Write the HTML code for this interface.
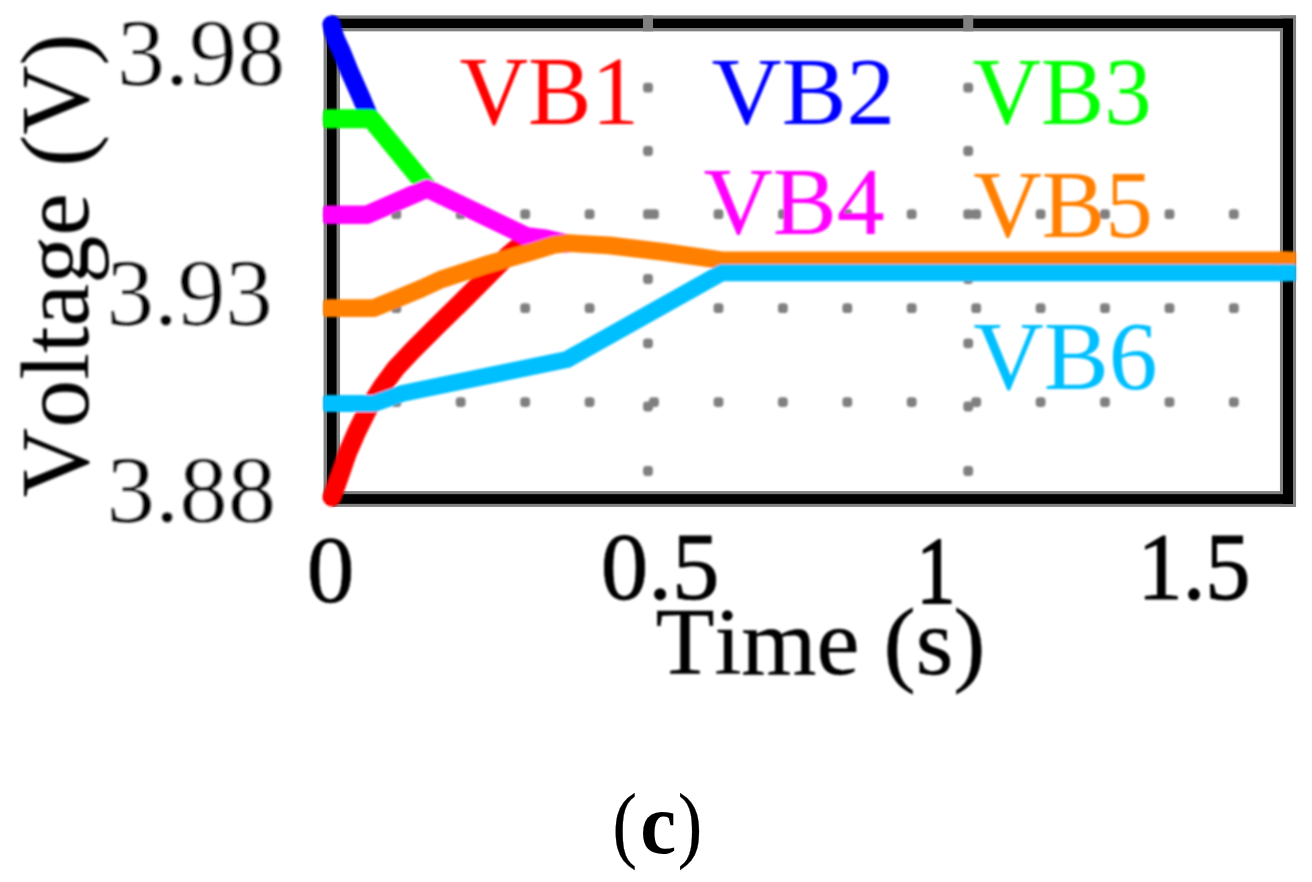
<!DOCTYPE html>
<html lang="en"><head><meta charset="utf-8"><title>Cell voltage balancing (c)</title>
<style>
html,body{margin:0;padding:0;background:#fff;}
body{width:1312px;height:882px;overflow:hidden;}
svg{display:block;font-family:"Liberation Serif", "DejaVu Serif", serif;}
text{white-space:pre;font-kerning:none;font-variant-ligatures:none;}
</style></head><body>
<svg width="1312" height="882" viewBox="0 0 1312 882">
<rect width="1312" height="882" fill="#fff"/>
<defs><filter id="soft" x="-2%" y="-2%" width="104%" height="104%"><feGaussianBlur stdDeviation="0.8"/></filter><filter id="soft2" x="-2%" y="-2%" width="104%" height="104%"><feGaussianBlur stdDeviation="0.45"/></filter></defs>
<g id="frame" filter="url(#soft2)">
<g fill="#808080">
<rect x="331.5" y="15.35" width="964.50" height="16.0"/>
<rect x="332.5" y="491.10" width="963.50" height="15.8"/>
<rect x="323.55" y="22.4" width="16.5" height="477.40"/>
<rect x="1279.95" y="15.4" width="16.1" height="491.40"/>
</g>
<g fill="#000">
<rect x="327.05" y="18.70" width="965.95" height="9.3"/>
<rect x="327.05" y="494.15" width="965.95" height="9.7"/>
<rect x="327.05" y="18.70" width="9.5" height="485.15"/>
<rect x="1283.00" y="18.70" width="10.0" height="485.15"/>
</g>
<g fill="#808080">
<rect x="643.0" y="15.35" width="10" height="16.0"/>
<rect x="963.2" y="15.35" width="10" height="16.0"/>
</g>
</g>
<g id="chart" filter="url(#soft)">
<g fill="#808080">
<rect x="391.4" y="209.3" width="9.8" height="9.8" rx="3.4"/>
<rect x="455.8" y="209.3" width="9.8" height="9.8" rx="3.4"/>
<rect x="520.3" y="209.3" width="9.8" height="9.8" rx="3.4"/>
<rect x="584.7" y="209.3" width="9.8" height="9.8" rx="3.4"/>
<rect x="649.1" y="209.3" width="9.8" height="9.8" rx="3.4"/>
<rect x="713.6" y="209.3" width="9.8" height="9.8" rx="3.4"/>
<rect x="778.0" y="209.3" width="9.8" height="9.8" rx="3.4"/>
<rect x="842.4" y="209.3" width="9.8" height="9.8" rx="3.4"/>
<rect x="906.8" y="209.3" width="9.8" height="9.8" rx="3.4"/>
<rect x="971.3" y="209.3" width="9.8" height="9.8" rx="3.4"/>
<rect x="1035.7" y="209.3" width="9.8" height="9.8" rx="3.4"/>
<rect x="1100.1" y="209.3" width="9.8" height="9.8" rx="3.4"/>
<rect x="1164.6" y="209.3" width="9.8" height="9.8" rx="3.4"/>
<rect x="1229.0" y="209.3" width="9.8" height="9.8" rx="3.4"/>
<rect x="391.4" y="303.3" width="9.8" height="9.8" rx="3.4"/>
<rect x="455.8" y="303.3" width="9.8" height="9.8" rx="3.4"/>
<rect x="520.3" y="303.3" width="9.8" height="9.8" rx="3.4"/>
<rect x="584.7" y="303.3" width="9.8" height="9.8" rx="3.4"/>
<rect x="649.1" y="303.3" width="9.8" height="9.8" rx="3.4"/>
<rect x="713.6" y="303.3" width="9.8" height="9.8" rx="3.4"/>
<rect x="778.0" y="303.3" width="9.8" height="9.8" rx="3.4"/>
<rect x="842.4" y="303.3" width="9.8" height="9.8" rx="3.4"/>
<rect x="906.8" y="303.3" width="9.8" height="9.8" rx="3.4"/>
<rect x="971.3" y="303.3" width="9.8" height="9.8" rx="3.4"/>
<rect x="1035.7" y="303.3" width="9.8" height="9.8" rx="3.4"/>
<rect x="1100.1" y="303.3" width="9.8" height="9.8" rx="3.4"/>
<rect x="1164.6" y="303.3" width="9.8" height="9.8" rx="3.4"/>
<rect x="1229.0" y="303.3" width="9.8" height="9.8" rx="3.4"/>
<rect x="391.4" y="397.2" width="9.8" height="9.8" rx="3.4"/>
<rect x="455.8" y="397.2" width="9.8" height="9.8" rx="3.4"/>
<rect x="520.3" y="397.2" width="9.8" height="9.8" rx="3.4"/>
<rect x="584.7" y="397.2" width="9.8" height="9.8" rx="3.4"/>
<rect x="649.1" y="397.2" width="9.8" height="9.8" rx="3.4"/>
<rect x="713.6" y="397.2" width="9.8" height="9.8" rx="3.4"/>
<rect x="778.0" y="397.2" width="9.8" height="9.8" rx="3.4"/>
<rect x="842.4" y="397.2" width="9.8" height="9.8" rx="3.4"/>
<rect x="906.8" y="397.2" width="9.8" height="9.8" rx="3.4"/>
<rect x="971.3" y="397.2" width="9.8" height="9.8" rx="3.4"/>
<rect x="1035.7" y="397.2" width="9.8" height="9.8" rx="3.4"/>
<rect x="1100.1" y="397.2" width="9.8" height="9.8" rx="3.4"/>
<rect x="1164.6" y="397.2" width="9.8" height="9.8" rx="3.4"/>
<rect x="1229.0" y="397.2" width="9.8" height="9.8" rx="3.4"/>
<rect x="643.1" y="82.8" width="9.8" height="9.8" rx="3.4"/>
<rect x="643.1" y="146.1" width="9.8" height="9.8" rx="3.4"/>
<rect x="643.1" y="209.3" width="9.8" height="9.8" rx="3.4"/>
<rect x="643.1" y="274.1" width="9.8" height="9.8" rx="3.4"/>
<rect x="643.1" y="338.4" width="9.8" height="9.8" rx="3.4"/>
<rect x="643.1" y="401.6" width="9.8" height="9.8" rx="3.4"/>
<rect x="643.1" y="466.1" width="9.8" height="9.8" rx="3.4"/>
<rect x="963.3" y="82.8" width="9.8" height="9.8" rx="3.4"/>
<rect x="963.3" y="146.1" width="9.8" height="9.8" rx="3.4"/>
<rect x="963.3" y="209.3" width="9.8" height="9.8" rx="3.4"/>
<rect x="963.3" y="274.1" width="9.8" height="9.8" rx="3.4"/>
<rect x="963.3" y="338.4" width="9.8" height="9.8" rx="3.4"/>
<rect x="963.3" y="401.6" width="9.8" height="9.8" rx="3.4"/>
<rect x="963.3" y="466.1" width="9.8" height="9.8" rx="3.4"/>
</g>
<text transform="translate(117.0,84.6) scale(1.012,1)" font-size="95" fill="#000" stroke="#fff" stroke-width="0.4">3.98</text>
<text transform="translate(106.4,324.5) scale(1.0,1)" font-size="95" fill="#000" stroke="#fff" stroke-width="0.4">3.93</text>
<text transform="translate(106.4,521.5) scale(1.022,1)" font-size="95" fill="#000" stroke="#fff" stroke-width="0.4">3.88</text>
<text transform="translate(306.8,602.4) scale(1.0,1)" font-size="95.5" fill="#000" stroke="#000" stroke-width="0.6">0</text>
<text transform="translate(600.7,599.1) scale(1.0,1)" font-size="95" fill="#000" stroke="#000" stroke-width="0.8">0.5</text>
<text transform="translate(916.6,603.2) scale(0.82,1)" font-size="95" fill="#000" stroke="#000" stroke-width="1.8">1</text>
<text transform="translate(1137.6,599.4) scale(0.95,1)" font-size="95" fill="#000" stroke="#000" stroke-width="1.2">1.5</text>
<text transform="translate(655.4,674.3) scale(1.007,1)" font-size="96" fill="#000" stroke="#000" stroke-width="0.4">Time (s)</text>
<text transform="translate(459.4,124.4) scale(0.985,1)" font-size="96.5" fill="#ff0000">VB1</text>
<text transform="translate(711.6,124.2) scale(1.012,1)" font-size="96" fill="#0000ff">VB2</text>
<text transform="translate(972.4,124.0) scale(0.988,1)" font-size="96" fill="#00ff00">VB3</text>
<text transform="translate(703.4,233.9) scale(1.0,1)" font-size="96" fill="#ff00ff">VB4</text>
<text transform="translate(973.2,236.6) scale(0.99,1)" font-size="96" fill="#ff8000">VB5</text>
<text transform="translate(973.2,389.3) scale(1.006,1)" font-size="97" fill="#00bfff">VB6</text>
<text transform="translate(88,497.3) rotate(-90) scale(0.991,1)" word-spacing="2.2" font-size="97" fill="#000">Voltage (V)</text>
<g fill="none" stroke-linecap="round" stroke-linejoin="round">
<path d="M332.0,497.0 L339.9,475.0 L347.5,453.0 L356.7,431.8 L368.0,409.0 L382.7,385.9 L396.0,368.0 L413.0,350.0 L437.0,326.0 L462.4,301.1 L493.0,270.5 L508.3,255.2 L521.0,244.5 L533.0,238.5" stroke="#ff0000" stroke-width="19.0"/>
<path d="M331.7,24.5 L333.0,31.0 L336.1,40.0 L341.7,52.0 L349.6,71.5 L361.6,98.5 L370.0,118.7" stroke="#0000ff" stroke-width="18.5"/>
<path d="M332.0,118.7 L371.0,118.7 L427.0,187.0" stroke="#00ff00" stroke-width="19.0"/>
<path d="M332.0,214.7 L367.0,214.7 L427.0,188.5 L527.0,236.5 L546.0,238.8 L566.0,243.4" stroke="#ff00ff" stroke-width="18.5"/>
<path d="M332.0,308.1 L374.0,308.1 L400.0,297.5 L421.6,288.5 L441.0,279.5 L485.7,264.9 L531.6,251.8 L555.0,244.6 L568.0,243.2 L609.0,245.3 L665.0,252.1 L722.0,260.3 L1287.0,260.3" stroke="#ff8000" stroke-width="17.8"/>
<path d="M332.0,403.5 L374.0,403.5 L402.0,393.5 L567.0,359.5 L721.6,272.8 L1287.0,272.8" stroke="#00bfff" stroke-width="17.0"/>
</g>
<rect x="323.1" y="109.20" width="12" height="19.0" rx="3.6" fill="#00ff00"/>
<rect x="323.1" y="205.45" width="12" height="18.5" rx="3.6" fill="#ff00ff"/>
<rect x="323.1" y="299.20" width="12" height="17.8" rx="3.6" fill="#ff8000"/>
<rect x="323.1" y="395.00" width="12" height="17.0" rx="3.6" fill="#00bfff"/>
<rect x="1278" y="251.4" width="17.9" height="17.8" rx="1.5" fill="#ff8000"/>
<rect x="1278" y="264.3" width="17.9" height="17" rx="1.5" fill="#00bfff"/>
</g>
<text font-size="85.5" fill="#000" stroke="#000" stroke-width="0.3"><tspan x="612.4" y="851.9" textLength="24.49" lengthAdjust="spacingAndGlyphs">(</tspan><tspan x="640.2" y="852.7" font-size="86" font-weight="bold" stroke="none" textLength="35.89" lengthAdjust="spacingAndGlyphs">c</tspan><tspan x="677.8" y="851.9" textLength="24.49" lengthAdjust="spacingAndGlyphs">)</tspan></text>
</svg></body></html>
